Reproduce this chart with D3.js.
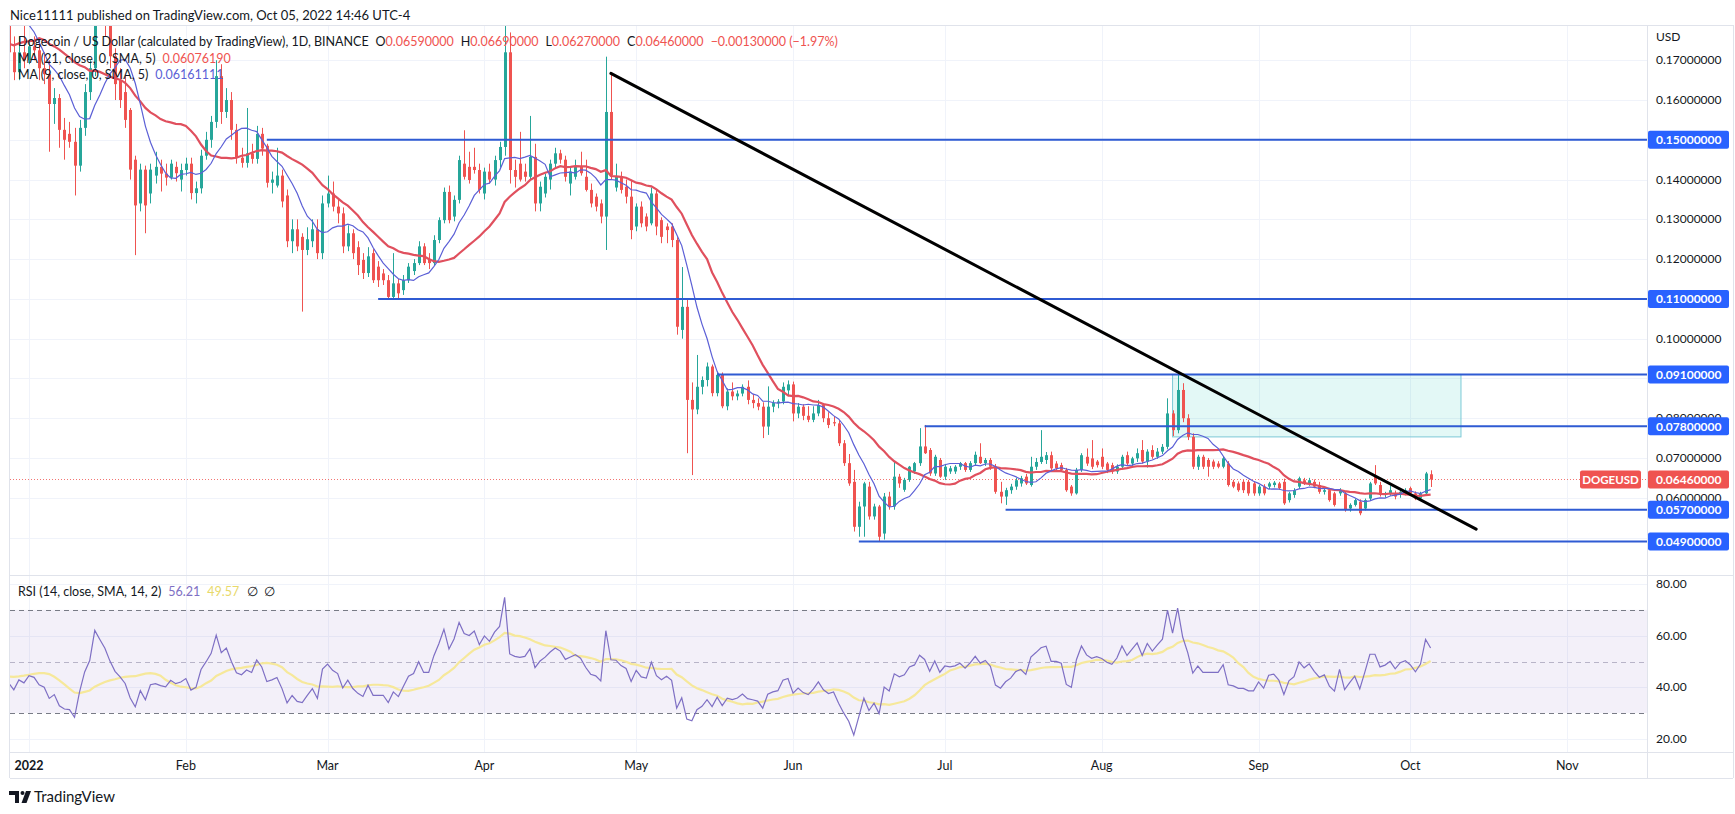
<!DOCTYPE html>
<html><head><meta charset="utf-8">
<script src="https://cdn.jsdelivr.net/npm/d3@7"></script>
<style>
html,body{margin:0;padding:0;background:#fff;}
svg{display:block;font-family:Lato,"Open Sans",sans-serif;}
</style></head><body>
<svg id="chart" width="1735" height="814"></svg>
<script>
// ---------------- DATA ----------------
const firstDate = "2021-12-28";           // first visible daily candle
const opens = [
 .1860,.1720,.1670,.1720,
 .1700,.1735,.1725,.1680,.1665,.1590,.1605,.1525,.1515,.1495,.1435,.1530,.1620,.1680,.1890,.1840,.1790,.1710,.1650,.1620,.1575,.1450,.1340,.1425,.1365,.1410,.1432,.1415,.1405,.1432,.1400,
 .1424,.1440,.1366,.1378,.1460,.1500,.1545,.1660,.1570,.1600,.1525,.1455,.1442,.1466,.1452,.1515,.1485,.1392,.1385,.1410,.1360,.1245,.1275,.1256,.1223,.1245,.1275,.1215,
 .1340,.1365,.1332,.1315,.1232,.1265,.1230,.1198,.1165,.1215,.1181,.1164,.1147,.1105,.1139,.1122,.1147,.1170,.1190,.1232,.1198,.1190,.1248,.1298,.1369,.1307,.1349,.1440,.1432,.1432,.1424,
 .1365,.1420,.1400,.1449,.1482,.1720,.1424,.1440,.1420,.1407,.1457,.1340,.1365,.1400,.1440,.1466,.1450,.1390,.1407,.1432,.1407,.1374,.1357,.1340,.1307,.1570,.1380,.1407,.1382,.1357,
 .1282,.1332,.1307,.1290,.1365,.1298,.1282,.1282,.1248,.1022,.1080,.0846,.0822,.0879,.0896,.0930,.0863,.0909,.0830,.0867,.0855,.0862,.0879,.0846,.0838,.0829,.0779,.0829,.0838,.0842,.0870,
 .0885,.0812,.0829,.0806,.0796,.0812,.0833,.0800,.0790,.0787,.0737,.0687,.0640,.0527,.0578,.0628,.0553,.0578,.0510,.0603,.0578,.0653,.0620,.0645,.0666,.0687,.0729,.0720,.0661,.0695,
 .0653,.0666,.0666,.0678,.0687,.0670,.0687,.0703,.0687,.0695,.0678,.0615,.0603,.0619,.0628,.0636,.0653,.0632,.0678,.0690,.0695,.0707,.0686,.0682,.0670,.0628,.0611,.0670,.0703,.0699,.0691,
 .0703,.0686,.0682,.0666,.0678,.0707,.0686,.0699,.0720,.0691,.0720,.0703,.0716,.0728,.0812,.0770,.0871,.0800,.0753,.0678,.0703,.0695,.0691,.0686,.0678,.0686,.0640,.0636,.0640,.0640,.0636,
 .0611,.0628,.0628,.0632,.0636,.0640,.0594,.0607,.0628,.0644,.0636,.0640,.0632,.0615,.0619,.0611,.0611,.0611,.0573,.0582,.0590,.0573,.0598,.0653,.0632,.0607,.0611,.0611,.0607,.0611,
 .0624,.0611,.0598,.0611,.0659
];
const highs = [
 .1870,.1760,.1760,.1790,
 .1750,.1760,.1740,.1720,.1700,.1630,.1615,.1555,.1545,.1530,.1550,.1640,.1700,.1980,.1950,.1870,.1810,.1730,.1680,.1660,.1580,.1460,.1440,.1435,.1440,.1470,.1450,.1440,.1450,.1445,.1440,
 .1455,.1455,.1395,.1475,.1520,.1560,.1700,.1690,.1630,.1620,.1540,.1480,.1580,.1490,.1535,.1530,.1490,.1420,.1480,.1425,.1375,.1300,.1300,.1265,.1280,.1300,.1300,.1360,
 .1410,.1395,.1350,.1330,.1285,.1275,.1245,.1215,.1230,.1225,.1195,.1175,.1160,.1215,.1150,.1160,.1190,.1200,.1245,.1240,.1215,.1260,.1305,.1380,.1385,.1360,.1460,.1524,.1470,.1480,.1440,
 .1430,.1440,.1460,.1495,.1800,.1770,.1450,.1520,.1440,.1560,.1490,.1395,.1415,.1450,.1480,.1475,.1460,.1430,.1450,.1470,.1450,.1390,.1365,.1350,.1709,.1667,.1440,.1420,.1400,.1400,
 .1340,.1345,.1315,.1380,.1375,.1305,.1290,.1290,.1255,.1180,.1100,.0890,.0959,.0905,.0940,.0935,.0915,.0915,.0875,.0890,.0870,.0885,.0895,.0860,.0850,.0840,.0880,.0845,.0848,.0890,.0895,
 .0892,.0838,.0835,.0830,.0830,.0846,.0838,.0815,.0805,.0795,.0745,.0710,.0670,.0590,.0640,.0640,.0585,.0582,.0612,.0615,.0690,.0660,.0650,.0680,.0690,.0775,.0783,.0725,.0708,.0700,
 .0685,.0680,.0682,.0690,.0690,.0692,.0716,.0737,.0700,.0700,.0685,.0640,.0625,.0635,.0650,.0655,.0660,.0703,.0700,.0770,.0715,.0716,.0692,.0688,.0675,.0632,.0675,.0712,.0724,.0745,.0695,
 .0724,.0690,.0688,.0684,.0708,.0716,.0703,.0724,.0745,.0722,.0732,.0725,.0735,.0850,.0820,.0913,.0888,.0810,.0762,.0708,.0708,.0700,.0696,.0692,.0704,.0692,.0645,.0641,.0645,.0645,.0640,
 .0632,.0634,.0640,.0642,.0640,.0648,.0615,.0624,.0653,.0650,.0650,.0646,.0640,.0624,.0624,.0615,.0624,.0615,.0586,.0598,.0596,.0598,.0640,.0682,.0640,.0615,.0630,.0618,.0620,.0624,
 .0628,.0616,.0615,.0665,.0669
];
const lows = [
 .1700,.1650,.1650,.1680,
 .1690,.1700,.1650,.1640,.1470,.1540,.1480,.1450,.1480,.1360,.1420,.1510,.1600,.1660,.1800,.1760,.1680,.1600,.1580,.1530,.1400,.1210,.1320,.1265,.1340,.1390,.1370,.1385,.1400,.1395,.1370,
 .1410,.1350,.1340,.1365,.1450,.1480,.1530,.1540,.1555,.1500,.1440,.1430,.1430,.1440,.1440,.1460,.1380,.1365,.1380,.1330,.1230,.1215,.1220,.1068,.1210,.1230,.1200,.1200,
 .1330,.1320,.1290,.1215,.1220,.1200,.1160,.1150,.1155,.1140,.1130,.1135,.1100,.1100,.1100,.1110,.1140,.1160,.1185,.1185,.1175,.1185,.1240,.1290,.1290,.1295,.1340,.1400,.1390,.1415,.1365,
 .1350,.1390,.1385,.1430,.1460,.1390,.1380,.1395,.1395,.1400,.1320,.1320,.1355,.1375,.1430,.1440,.1395,.1360,.1400,.1410,.1370,.1330,.1320,.1290,.1223,.1400,.1370,.1365,.1340,.1250,
 .1270,.1280,.1270,.1285,.1260,.1240,.1240,.1230,.1010,.1000,.0712,.0657,.0810,.0860,.0880,.0855,.0855,.0825,.0820,.0845,.0845,.0855,.0835,.0825,.0820,.0750,.0758,.0815,.0825,.0835,.0855,
 .0792,.0800,.0795,.0790,.0790,.0805,.0790,.0775,.0780,.0730,.0680,.0630,.0515,.0502,.0502,.0545,.0545,.0490,.0495,.0570,.0570,.0625,.0615,.0640,.0660,.0680,.0710,.0655,.0655,.0650,
 .0645,.0660,.0660,.0670,.0665,.0665,.0680,.0685,.0680,.0670,.0610,.0586,.0582,.0610,.0620,.0628,.0632,.0628,.0670,.0685,.0685,.0668,.0668,.0665,.0615,.0605,.0608,.0665,.0680,.0672,.0676,
 .0672,.0662,.0660,.0660,.0672,.0682,.0680,.0690,.0686,.0676,.0698,.0698,.0710,.0722,.0755,.0762,.0790,.0745,.0672,.0670,.0672,.0653,.0672,.0674,.0674,.0628,.0624,.0615,.0612,.0605,.0605,
 .0605,.0606,.0622,.0626,.0620,.0582,.0588,.0600,.0622,.0632,.0630,.0624,.0610,.0608,.0590,.0578,.0605,.0565,.0565,.0578,.0556,.0568,.0594,.0632,.0603,.0600,.0605,.0596,.0600,.0606,
 .0606,.0594,.0594,.0605,.0627
];
const closes = [
 .1720,.1670,.1720,.1700,
 .1735,.1725,.1680,.1665,.1590,.1605,.1525,.1500,.1495,.1435,.1530,.1620,.1680,.1890,.1840,.1790,.1710,.1640,.1600,.1550,.1425,.1335,.1425,.1335,.1425,.1432,.1415,.1405,.1440,.1416,.1424,
 .1440,.1366,.1378,.1460,.1500,.1545,.1660,.1570,.1600,.1525,.1455,.1442,.1466,.1452,.1515,.1478,.1392,.1400,.1410,.1345,.1245,.1275,.1232,.1223,.1250,.1275,.1215,.1340,
 .1365,.1332,.1315,.1232,.1265,.1215,.1185,.1165,.1207,.1147,.1147,.1147,.1105,.1139,.1114,.1147,.1181,.1190,.1232,.1190,.1190,.1248,.1298,.1369,.1298,.1349,.1449,.1407,.1399,.1424,.1374,
 .1420,.1400,.1449,.1482,.1720,.1424,.1407,.1400,.1407,.1457,.1340,.1382,.1407,.1440,.1466,.1450,.1407,.1420,.1432,.1416,.1374,.1340,.1332,.1307,.1570,.1410,.1407,.1374,.1357,.1273,
 .1332,.1290,.1282,.1365,.1282,.1256,.1273,.1248,.1030,.1080,.0846,.0822,.0879,.0896,.0930,.0863,.0909,.0830,.0867,.0855,.0862,.0879,.0846,.0838,.0829,.0779,.0829,.0838,.0842,.0879,.0885,
 .0812,.0829,.0806,.0796,.0812,.0833,.0800,.0783,.0787,.0737,.0687,.0636,.0527,.0578,.0636,.0553,.0578,.0502,.0603,.0578,.0653,.0636,.0645,.0678,.0687,.0729,.0712,.0661,.0703,.0653,
 .0678,.0674,.0678,.0687,.0670,.0687,.0708,.0687,.0695,.0678,.0615,.0603,.0619,.0628,.0644,.0649,.0636,.0678,.0690,.0703,.0707,.0674,.0674,.0670,.0619,.0611,.0670,.0707,.0686,.0678,.0682,
 .0678,.0670,.0666,.0678,.0703,.0686,.0699,.0712,.0691,.0716,.0703,.0716,.0728,.0812,.0770,.0871,.0800,.0753,.0678,.0703,.0678,.0678,.0678,.0678,.0699,.0632,.0628,.0619,.0619,.0611,.0611,
 .0628,.0611,.0636,.0638,.0624,.0586,.0611,.0619,.0649,.0636,.0644,.0628,.0615,.0619,.0594,.0582,.0619,.0569,.0582,.0594,.0561,.0594,.0636,.0636,.0607,.0611,.0619,.0603,.0615,.0619,
 .0611,.0598,.0611,.0661,.0646
];
// closes before the first visible candle (Nov 18 - Dec 27, 2021), used only to warm up MA / RSI
const priorCloses = [.231,.236,.240,.232,.219,.225,.220,.226,.207,.212,.212,.218,.213,.214,.206,.195,.180,.177,.176,.174,
 .175,.162,.162,.170,.170,.155,.176,.179,.174,.169,.172,.170,.167,.170,.172,.187,.188,.191,.191,.185];

const priceTicks = [0.05,0.06,0.07,0.08,0.09,0.10,0.11,0.12,0.13,0.14,0.15,0.16,0.17];
const rsiTicks = [20,40,60,80];
const rsiBands = [70,50,30];
const monthDates = ["2022-01-01","2022-02-01","2022-03-01","2022-04-01","2022-05-01","2022-06-01","2022-07-01","2022-08-01","2022-09-01","2022-10-01","2022-11-01"];
const monthLabels = ["2022","Feb","Mar","Apr","May","Jun","Jul","Aug","Sep","Oct","Nov"];
const levelPrices = [0.15,0.11,0.091,0.078,0.057,0.049];
const levelStarts = ["2022-02-17","2022-03-11","2022-05-17","2022-06-27","2022-07-13","2022-06-14"];
const trendDates = ["2022-04-26","2022-10-14"];
const trendPrices = [0.1667,0.0521];
const zoneDates = ["2022-08-15","2022-10-11"];
const zonePrices = [0.091,0.0753];
const lastPrice = 0.0646;
const ohlcLegend = [["O","0.06590000"],["H","0.06690000"],["L","0.06270000"],["C","0.06460000"]];

// ---------------- LAYOUT ----------------
const paneL = 10, paneR = 1647, priceTop = 25, priceBot = 575, rsiTop = 576, rsiBot = 752, timeBot = 778;
const TEAL = "#26a69a", RED = "#ef5350", DARK = "#131722", GRID = "#f0f3fa", BORDER = "#e0e3eb";
const LEVEL = "#2f5bd3", LEVEL_LABEL = "#2962ff", MA9C = "#5b5fd6", RSIC = "#7e6fc4";

const parse = d3.utcParse("%Y-%m-%d");
const x = d3.scaleUtc().domain([parse("2022-01-01"), parse("2022-11-01")]).range([29, 29 + 304 * 5.06]);
const y = d3.scaleLinear().domain([0.049, 0.15]).range([541.5, 139.8]);
const yr = d3.scaleLinear().domain([20, 80]).range([739, 584]);
const fmt8 = d3.format(".8f");

const dates = closes.map((_, i) => d3.utcDay.offset(parse(firstDate), i));
const allCloses = priorCloses.concat(closes);
const P = priorCloses.length;

function smaAt(arr, idx, n) { let s = 0; for (let k = idx - n + 1; k <= idx; k++) s += arr[k]; return s / n; }
const ma21 = closes.map((_, i) => smaAt(allCloses, P + i, 21));
const ma9 = closes.map((_, i) => smaAt(allCloses, P + i, 9));

function rsiCalc(arr, n) {
  const out = new Array(arr.length).fill(null);
  let g = 0, l = 0, ag, al;
  for (let i = 1; i < arr.length; i++) {
    const ch = arr[i] - arr[i - 1], up = Math.max(ch, 0), dn = Math.max(-ch, 0);
    if (i <= n) { g += up; l += dn; if (i === n) { ag = g / n; al = l / n; out[i] = al === 0 ? 100 : 100 - 100 / (1 + ag / al); } }
    else { ag = (ag * (n - 1) + up) / n; al = (al * (n - 1) + dn) / n; out[i] = al === 0 ? 100 : 100 - 100 / (1 + ag / al); }
  }
  return out;
}
const rsiAll = rsiCalc(allCloses, 14);
const rsiMaAll = rsiAll.map((v, i) => { if (i < 27) return null; let s = 0; for (let k = i - 13; k <= i; k++) s += rsiAll[k]; return s / 14; });
const rsi = closes.map((_, i) => rsiAll[P + i]);
const rsiMa = closes.map((_, i) => rsiMaAll[P + i]);

// ---------------- DRAW ----------------
const svg = d3.select("#chart");
const defs = svg.append("defs");
defs.append("clipPath").attr("id", "clipPrice").append("rect").attr("x", paneL).attr("y", priceTop).attr("width", paneR - paneL).attr("height", priceBot - priceTop);
defs.append("clipPath").attr("id", "clipRsi").append("rect").attr("x", paneL).attr("y", rsiTop).attr("width", paneR - paneL).attr("height", rsiBot - rsiTop);

// header
svg.append("text").attr("x", 10).attr("y", 20).attr("font-size", 13).attr("fill", DARK)
  .text("Nice11111 published on TradingView.com, Oct 05, 2022 14:46 UTC-4");

// grid
const grid = svg.append("g");
grid.selectAll(".hg").data(priceTicks).join("line")
  .attr("x1", paneL).attr("x2", paneR).attr("y1", d => Math.round(y(d)) + 0.5).attr("y2", d => Math.round(y(d)) + 0.5)
  .attr("stroke", GRID).attr("clip-path", "url(#clipPrice)");
grid.selectAll(".vg").data(monthDates).join("line")
  .attr("x1", d => Math.round(x(parse(d))) + 0.5).attr("x2", d => Math.round(x(parse(d))) + 0.5)
  .attr("y1", priceTop).attr("y2", rsiBot).attr("stroke", GRID);
grid.selectAll(".rg").data(rsiTicks).join("line")
  .attr("x1", paneL).attr("x2", paneR).attr("y1", d => Math.round(yr(d)) + 0.5).attr("y2", d => Math.round(yr(d)) + 0.5)
  .attr("stroke", GRID);

// RSI pane background band
svg.append("rect").attr("x", paneL).attr("width", paneR - paneL)
  .attr("y", yr(70)).attr("height", yr(30) - yr(70)).attr("fill", "rgba(126,87,194,0.09)");
svg.selectAll(".band").data(rsiBands).join("line")
  .attr("x1", paneL).attr("x2", paneR).attr("y1", d => Math.round(yr(d)) + 0.5).attr("y2", d => Math.round(yr(d)) + 0.5)
  .attr("stroke", d => d === 50 ? "#b8b4c8" : "#787b86").attr("stroke-dasharray", "5,4").attr("stroke-width", 1);

// zone rectangle
const pg = svg.append("g").attr("clip-path", "url(#clipPrice)");
pg.append("rect").attr("x", x(parse(zoneDates[0]))).attr("y", y(zonePrices[0]))
  .attr("width", x(parse(zoneDates[1])) - x(parse(zoneDates[0]))).attr("height", y(zonePrices[1]) - y(zonePrices[0]))
  .attr("fill", "rgba(0,188,170,0.11)").attr("stroke", "#7cc9d6").attr("stroke-width", 1);

// last price dotted line
pg.append("line").attr("x1", paneL).attr("x2", paneR).attr("y1", Math.round(y(lastPrice)) + 0.5).attr("y2", Math.round(y(lastPrice)) + 0.5)
  .attr("stroke", RED).attr("stroke-dasharray", "1,2").attr("opacity", 0.8);

// candles
const cg = pg.append("g");
const idx = d3.range(closes.length);
cg.selectAll(".wick").data(idx).join("line")
  .attr("x1", i => Math.round(x(dates[i])) + 0.5).attr("x2", i => Math.round(x(dates[i])) + 0.5)
  .attr("y1", i => y(highs[i])).attr("y2", i => y(lows[i]))
  .attr("stroke", i => closes[i] >= opens[i] ? TEAL : RED).attr("stroke-width", 1);
cg.selectAll(".body").data(idx).join("rect")
  .attr("x", i => Math.round(x(dates[i])) - 1).attr("width", 3)
  .attr("y", i => y(Math.max(opens[i], closes[i])))
  .attr("height", i => Math.max(1, Math.abs(y(opens[i]) - y(closes[i]))))
  .attr("fill", i => closes[i] >= opens[i] ? TEAL : RED);

// moving averages
const lineP = (arr) => d3.line().x((d, i) => x(dates[i])).y(d => y(d))(arr);
pg.append("path").attr("d", lineP(ma21)).attr("fill", "none").attr("stroke", "#e0505e").attr("stroke-width", 2.2);
pg.append("path").attr("d", lineP(ma9)).attr("fill", "none").attr("stroke", MA9C).attr("stroke-width", 1.2);

// level lines
pg.selectAll(".lvl").data(levelPrices).join("line")
  .attr("x1", (d, i) => x(parse(levelStarts[i]))).attr("x2", paneR)
  .attr("y1", d => y(d)).attr("y2", d => y(d))
  .attr("stroke", LEVEL).attr("stroke-width", 2);

// trend line
pg.append("line").attr("x1", x(parse(trendDates[0]))).attr("y1", y(trendPrices[0]))
  .attr("x2", x(parse(trendDates[1]))).attr("y2", y(trendPrices[1]))
  .attr("stroke", "#000").attr("stroke-width", 3).attr("stroke-linecap", "round");

// RSI lines
const rg = svg.append("g").attr("clip-path", "url(#clipRsi)");
const lineR = d3.line().defined(d => d != null).x((d, i) => x(dates[i])).y(d => yr(d));
rg.append("path").attr("d", lineR(rsiMa)).attr("fill", "none").attr("stroke", "#f6e89a").attr("stroke-width", 2.2);
rg.append("path").attr("d", lineR(rsi)).attr("fill", "none").attr("stroke", RSIC).attr("stroke-width", 1.2);

// legends (flowing tspans so pieces never collide)
const lg = svg.append("g").attr("font-size", 12.5).attr("fill", DARK);
const l1 = lg.append("text").attr("x", 18).attr("y", 46);
l1.append("tspan").text("Dogecoin / US Dollar (calculated by TradingView), 1D, BINANCE");
ohlcLegend.forEach(([k, v]) => {
  l1.append("tspan").attr("dx", 7).text(k);
  l1.append("tspan").attr("fill", RED).text(v);
});
l1.append("tspan").attr("dx", 7).attr("fill", RED).text("\u22120.00130000 (\u22121.97%)");
const l2 = lg.append("text").attr("x", 18).attr("y", 63);
l2.append("tspan").text("MA (21, close, 0, SMA, 5)");
l2.append("tspan").attr("dx", 7).attr("fill", RED).text("0.06076190");
const l3 = lg.append("text").attr("x", 18).attr("y", 79);
l3.append("tspan").text("MA (9, close, 0, SMA, 5)");
l3.append("tspan").attr("dx", 7).attr("fill", MA9C).text("0.06161111");
const l4 = lg.append("text").attr("x", 18).attr("y", 596);
l4.append("tspan").text("RSI (14, close, SMA, 14, 2)");
l4.append("tspan").attr("dx", 7).attr("fill", RSIC).text("56.21");
l4.append("tspan").attr("dx", 7).attr("fill", "#e8d96a").text("49.57");
l4.append("tspan").attr("dx", 8).text("\u2205");
l4.append("tspan").attr("dx", 6).text("\u2205");

// pane borders
const bd = svg.append("g").attr("stroke", BORDER).attr("fill", "none");
bd.append("line").attr("x1", paneL).attr("x2", 1733).attr("y1", priceTop + 0.5).attr("y2", priceTop + 0.5);
bd.append("line").attr("x1", paneL).attr("x2", 1733).attr("y1", priceBot + 0.5).attr("y2", priceBot + 0.5);
bd.append("line").attr("x1", paneL).attr("x2", 1733).attr("y1", rsiBot + 0.5).attr("y2", rsiBot + 0.5);
bd.append("line").attr("x1", paneL).attr("x2", 1733).attr("y1", timeBot + 0.5).attr("y2", timeBot + 0.5);
bd.append("line").attr("x1", paneR + 0.5).attr("x2", paneR + 0.5).attr("y1", priceTop).attr("y2", timeBot);
bd.append("line").attr("x1", paneL - 0.5).attr("x2", paneL - 0.5).attr("y1", priceTop).attr("y2", timeBot);
bd.append("line").attr("x1", 1733.5).attr("x2", 1733.5).attr("y1", priceTop).attr("y2", timeBot);

// price axis
const ax = svg.append("g").attr("font-size", 12).attr("fill", DARK);
ax.append("text").attr("x", 1656).attr("y", 41).text("USD");
ax.selectAll(".pt").data(priceTicks).join("text")
  .attr("x", 1656).attr("y", d => y(d) + 4).text(d => fmt8(d));
ax.selectAll(".rt").data(rsiTicks).join("text")
  .attr("x", 1656).attr("y", d => yr(d) + 4).text(d => d3.format(".2f")(d));

// level labels
const ll = svg.append("g");
levelPrices.forEach(p => {
  ll.append("rect").attr("x", 1648).attr("y", y(p) - 9).attr("width", 81).attr("height", 18).attr("rx", 2).attr("fill", LEVEL_LABEL);
  ll.append("text").attr("x", 1656).attr("y", y(p) + 4.5).attr("font-size", 12).attr("font-weight", 700).attr("fill", "#fff").text(fmt8(p));
});
// last price labels
ll.append("rect").attr("x", 1648).attr("y", y(lastPrice) - 9).attr("width", 81).attr("height", 18).attr("rx", 2).attr("fill", RED);
ll.append("text").attr("x", 1656).attr("y", y(lastPrice) + 4.5).attr("font-size", 12).attr("font-weight", 700).attr("fill", "#fff").text(fmt8(lastPrice));
ll.append("rect").attr("x", 1580).attr("y", y(lastPrice) - 9).attr("width", 61).attr("height", 18).attr("rx", 2).attr("fill", RED);
ll.append("text").attr("x", 1610.5).attr("y", y(lastPrice) + 4.5).attr("text-anchor", "middle").attr("font-size", 11.5).attr("font-weight", 700).attr("fill", "#fff").text("DOGEUSD");

// time axis
svg.append("g").attr("font-size", 12.5).attr("fill", DARK)
  .selectAll("text").data(monthDates).join("text")
  .attr("x", d => x(parse(d))).attr("y", 770).attr("text-anchor", "middle")
  .attr("font-weight", (d, i) => i === 0 ? 700 : 400)
  .text((d, i) => monthLabels[i]);

// TradingView logo
const lo = svg.append("g").attr("fill", DARK);
lo.append("path").attr("d", "M9,791 H19 V803 H15 V795 H9 Z");
lo.append("circle").attr("cx", 22.5).attr("cy", 793).attr("r", 2);
lo.append("path").attr("d", "M26,791 H31 L26.5,803 H21.5 Z");
lo.append("text").attr("x", 34).attr("y", 802).attr("font-size", 15).text("TradingView");
</script>
</body></html>
